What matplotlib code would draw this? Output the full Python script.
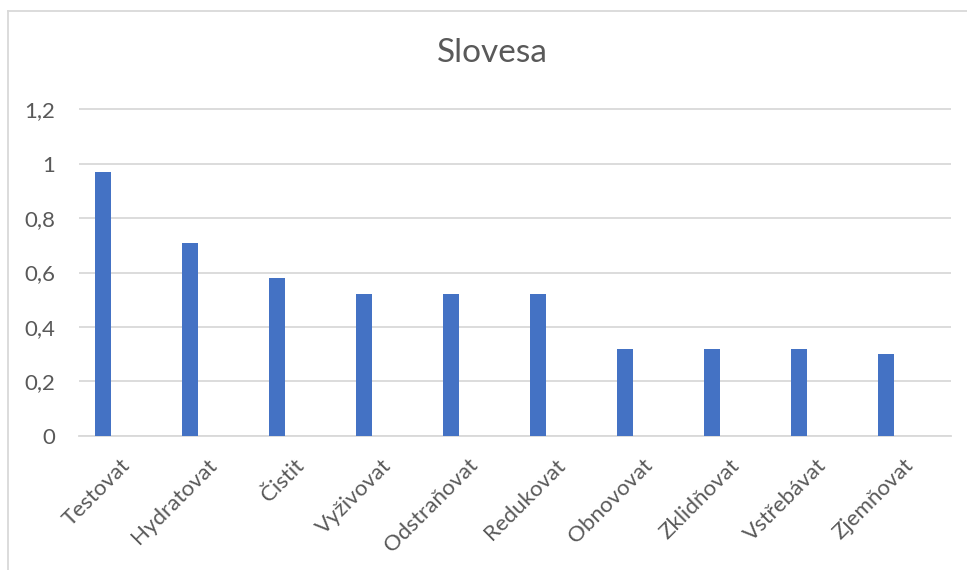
import matplotlib.pyplot as plt
import matplotlib.transforms as mtransforms
from matplotlib.lines import Line2D
from matplotlib.ticker import FuncFormatter

plt.rcParams['font.family'] = ['Lato', 'DejaVu Sans']

categories = ['Testovat', 'Hydratovat', 'Čistit', 'Vyživovat', 'Odstraňovat',
              'Redukovat', 'Obnovovat', 'Zklidňovat', 'Vstřebávat', 'Zjemňovat']
values = [0.97, 0.71, 0.58, 0.52, 0.52, 0.52, 0.32, 0.32, 0.32, 0.30]
yticks = [0, 0.2, 0.4, 0.6, 0.8, 1.0, 1.2]

W, H = 967, 570
fig = plt.figure(figsize=(W / 100, H / 100), dpi=100)

# plot area in pixels: x 79..951, y(0)=435.7, y(1.25)=95.7
ax = fig.add_axes([79 / W, 1 - 435.7 / H, (951 - 79) / W, (435.7 - 95.7) / H])

x = list(range(len(categories)))
ax.bar(x, values, width=0.175, color='#4472C4', zorder=3)

ax.set_xlim(-0.276, 9.747)
ax.set_ylim(0, 1.25)
ax.set_yticks(yticks)
ax.yaxis.set_major_formatter(FuncFormatter(lambda v, p: ('%g' % v).replace('.', ',')))
ax.grid(axis='y', color='#D9D9D9', linewidth=1.3, zorder=0)

ax.set_xticks(x)
ax.set_xticklabels(categories, rotation=45, ha='right', va='top',
                   rotation_mode='anchor', fontsize=16, color='#595959')
ax.tick_params(axis='y', labelsize=16, labelcolor='#595959', length=0, pad=17)
ax.tick_params(axis='x', length=0, pad=14)

# shift rotated labels right like the original
offset = mtransforms.ScaledTranslation(0.17, 0, fig.dpi_scale_trans)
for lbl in ax.get_xticklabels():
    lbl.set_transform(lbl.get_transform() + offset)

for s in ['top', 'right', 'left']:
    ax.spines[s].set_visible(False)
ax.spines['bottom'].set_color('#D9D9D9')
ax.spines['bottom'].set_linewidth(1.3)

fig.text(492 / W, 1 - 53 / H, 'Slovesa', ha='center', va='center',
         fontsize=24, color='#595959')

# chart frame (top and left edges visible)
fig.add_artist(Line2D([8 / W, 1], [1 - 11 / H, 1 - 11 / H], color='#D9D9D9',
                      linewidth=1.3, transform=fig.transFigure))
fig.add_artist(Line2D([8 / W, 8 / W], [0, 1 - 11 / H], color='#D9D9D9',
                      linewidth=1.3, transform=fig.transFigure))

fig.savefig('out.png', dpi=100, facecolor='white')
